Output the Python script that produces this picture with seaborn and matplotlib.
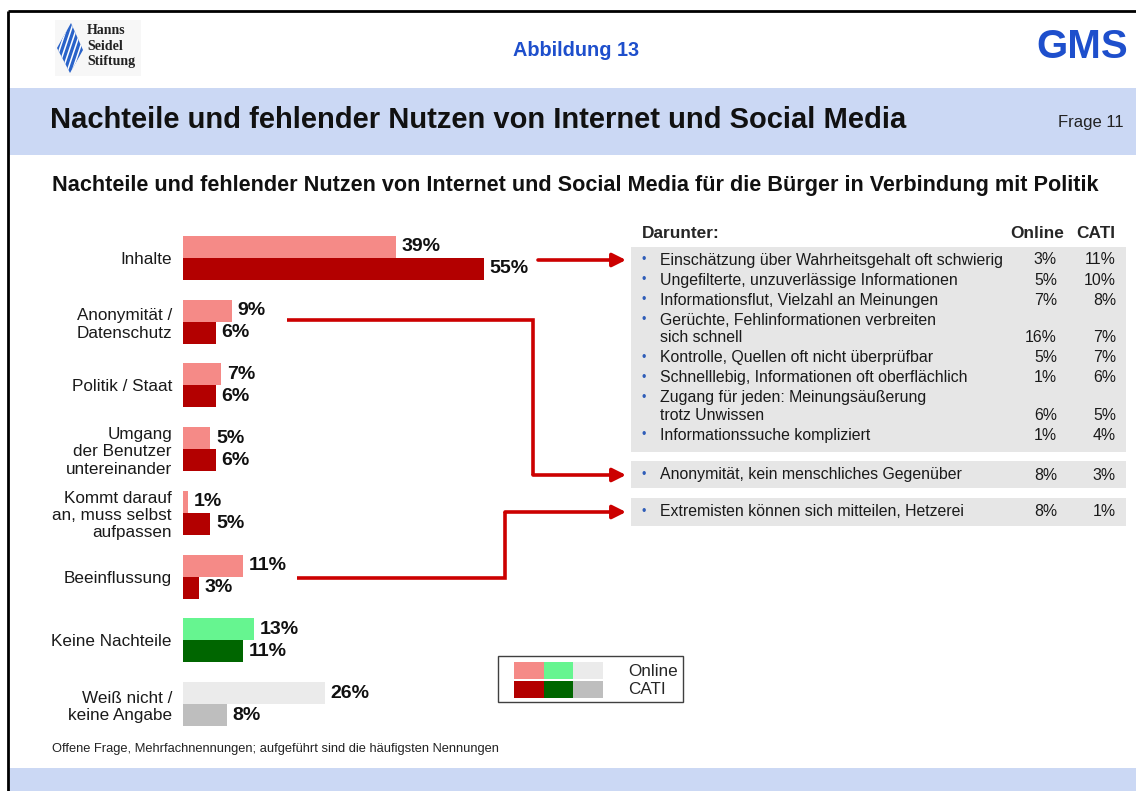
import numpy as np
import pandas as pd
import matplotlib
matplotlib.use("Agg")
import matplotlib.pyplot as plt
import seaborn as sns
from matplotlib.patches import Rectangle, Polygon

# ---------------- data ----------------
categories = ["Inhalte", "Anonymität /\nDatenschutz", "Politik / Staat",
              "Umgang\nder Benutzer\nuntereinander",
              "Kommt darauf\nan, muss selbst\naufpassen", "Beeinflussung",
              "Keine Nachteile", "Weiß nicht /\nkeine Angabe"]
online = [39, 9, 7, 5, 1, 11, 13, 26]
cati = [55, 6, 6, 6, 5, 3, 11, 8]
series = ["Online", "CATI"]

online_colors = ["#F58A87"] * 6 + ["#66F590", "#EBEBEB"]
cati_colors = ["#B30000"] * 6 + ["#006600", "#BEBEBE"]

detail_items = ["Einschätzung über Wahrheitsgehalt oft schwierig",
                "Ungefilterte, unzuverlässige Informationen",
                "Informationsflut, Vielzahl an Meinungen",
                "Gerüchte, Fehlinformationen verbreiten\nsich schnell",
                "Kontrolle, Quellen oft nicht überprüfbar",
                "Schnelllebig, Informationen oft oberflächlich",
                "Zugang für jeden: Meinungsäußerung\ntrotz Unwissen",
                "Informationssuche kompliziert",
                "Anonymität, kein menschliches Gegenüber",
                "Extremisten können sich mitteilen, Hetzerei"]
detail_online = [3, 5, 7, 16, 5, 1, 6, 1, 8, 8]
detail_cati = [11, 10, 8, 7, 7, 6, 5, 4, 3, 1]
detail_group = [0, 0, 0, 0, 0, 0, 0, 0, 1, 2]

# ---------------- style ----------------
sns.set_style("white")
plt.rcParams["font.family"] = ["Liberation Sans", "DejaVu Sans"]

W, H = 1136, 791
fig = plt.figure(figsize=(W / 100, H / 100), dpi=100)


def px(x0, y0, x1, y1):
    return [x0 / W, 1 - y1 / H, (x1 - x0) / W, (y1 - y0) / H]


# overlay axes in pixel coordinates (decorations)
ov = fig.add_axes([0, 0, 1, 1], zorder=0)
ov.set_xlim(0, W)
ov.set_ylim(H, 0)
ov.axis("off")

band = "#CBD8F4"
ov.add_patch(Rectangle((9, 88), W - 9, 67, color=band, lw=0))
ov.add_patch(Rectangle((9, 768), W - 9, 23, color=band, lw=0))
ov.plot([8, 8], [11, H], color="black", lw=2, solid_capstyle="butt")
ov.plot([8, W], [11, 11], color="black", lw=2, solid_capstyle="butt")

# logo
ov.add_patch(Rectangle((55, 20), 86, 56, color="#F7F7F7", lw=0))
dia = Polygon([(57, 48), (71, 23), (83, 50), (70, 73)], closed=True,
              color="#2A63C9", lw=0)
ov.add_patch(dia)
for k in range(-3, 5):
    ln, = ov.plot([60 + 5 * k, 80 + 5 * k], [78, 18], color="white", lw=1.1)
    ln.set_clip_path(dia)
for txt, yy in [("Hanns", 30), ("Seidel", 46), ("Stiftung", 61)]:
    ov.text(87, yy, txt, family=["Liberation Serif"], fontweight="bold",
            fontsize=10, va="center", ha="left", color="#222222")

blue = "#1E4FCC"
ov.text(576, 50, "Abbildung 13", color=blue, fontweight="bold", fontsize=14.3,
        ha="center", va="center")
ov.text(1128, 47, "GMS", color=blue, fontweight="bold", fontsize=29,
        ha="right", va="center")
ov.text(50, 120, "Nachteile und fehlender Nutzen von Internet und Social Media",
        fontweight="bold", fontsize=21, ha="left", va="center", color="#111111")
ov.text(1124, 123, "Frage 11", fontsize=12, ha="right", va="center", color="#222222")
ov.text(52, 186, "Nachteile und fehlender Nutzen von Internet und Social Media für die Bürger in Verbindung mit Politik",
        fontweight="bold", fontsize=15.6, ha="left", va="center", color="#111111")
ov.text(52, 749, "Offene Frage, Mehrfachnennungen; aufgeführt sind die häufigsten Nennungen",
        fontsize=9.3, ha="left", va="center", color="#222222")

# detail table
ov.text(642, 233, "Darunter:", fontweight="bold", fontsize=12.4, ha="left", va="center")
ov.text(1064, 233, "Online", fontweight="bold", fontsize=12.4, ha="right", va="center")
ov.text(1115, 233, "CATI", fontweight="bold", fontsize=12.4, ha="right", va="center")
grey = "#E6E6E6"
boxes = [(247, 205), (461, 27), (498, 28)]
for y0, h in boxes:
    ov.add_patch(Rectangle((631, y0), 495, h, color=grey, lw=0))
starts = [260, 475, 512]
step = 20.1
inner = 17.3
fs_tab = 11.4
cur = {0: starts[0], 1: starts[1], 2: starts[2]}
for item, vo, vc, g in zip(detail_items, detail_online, detail_cati, detail_group):
    y = cur[g]
    lines = item.split("\n")
    ov.text(644, y, "•", color="#2F5DB8", fontsize=9, ha="center", va="center")
    for i, line in enumerate(lines):
        ov.text(660, y + i * inner, line, fontsize=fs_tab, ha="left",
                va="center", color="#1a1a1a")
    yv = y + (len(lines) - 1) * inner
    ov.text(1057, yv, f"{vo}%", fontsize=fs_tab, ha="right", va="center", color="#1a1a1a")
    ov.text(1116, yv, f"{vc}%", fontsize=fs_tab, ha="right", va="center", color="#1a1a1a")
    cur[g] = yv + step

# arrows
red = "#CC0000"
lw = 2.6


def arrow(points):
    xs = [p[0] for p in points]
    ys = [p[1] for p in points]
    if len(points) > 2:
        ov.plot(xs[:-1], ys[:-1], color=red, lw=lw, solid_joinstyle="miter",
                solid_capstyle="butt")
    ov.annotate("", xy=points[-1], xytext=points[-2],
                arrowprops=dict(arrowstyle="-|>", color=red, lw=lw,
                                mutation_scale=20, shrinkA=0, shrinkB=0))


arrow([(538, 260), (626, 260)])
arrow([(287, 320), (533, 320), (533, 475), (626, 475)])
arrow([(297, 578), (505, 578), (505, 512), (626, 512)])

# legend
ov.add_patch(Rectangle((498, 656), 185, 46, facecolor="white",
                       edgecolor="#404040", lw=1))
sw_x = [514, 544, 573]
for i, (c1, c2) in enumerate([(online_colors[0], cati_colors[0]),
                              (online_colors[6], cati_colors[6]),
                              (online_colors[7], cati_colors[7])]):
    ov.add_patch(Rectangle((sw_x[i], 662), 30, 16.5, color=c1, lw=0))
    ov.add_patch(Rectangle((sw_x[i], 681), 30, 16.5, color=c2, lw=0))
ov.text(628, 671, series[0], fontsize=12.3, ha="left", va="center")
ov.text(628, 689, series[1], fontsize=12.3, ha="left", va="center")

# ---------------- bars (seaborn) ----------------
ax = fig.add_axes(px(183, 226, 730, 736), zorder=2)
ax.patch.set_alpha(0)
df = pd.DataFrame({
    "Kategorie": categories * 2,
    "Wert": online + cati,
    "Umfrage": [series[0]] * len(categories) + [series[1]] * len(categories),
})
sns.barplot(data=df, x="Wert", y="Kategorie", hue="Umfrage", hue_order=series,
            order=categories, orient="h", width=0.69, saturation=1,
            errorbar=None, legend=False, ax=ax,
            palette=[online_colors[0], cati_colors[0]])
for cont, cols, vals in zip(ax.containers, [online_colors, cati_colors], [online, cati]):
    for patch, c in zip(cont, cols):
        patch.set_facecolor(c)
        patch.set_edgecolor("none")
    ax.bar_label(cont, labels=[f"{v}%" for v in vals], padding=4,
                 fontweight="bold", fontsize=14, color="#111111")

ax.set_xlim(0, 100)
ax.set_ylim(len(categories) - 0.5, -0.5)
ax.set_xticks([])
ax.set_xlabel("")
ax.set_ylabel("")
ax.tick_params(axis="y", length=0, pad=8, labelsize=12.3, labelcolor="#1a1a1a")
for s in ax.spines.values():
    s.set_visible(False)

fig.savefig("out.png", dpi=100)
